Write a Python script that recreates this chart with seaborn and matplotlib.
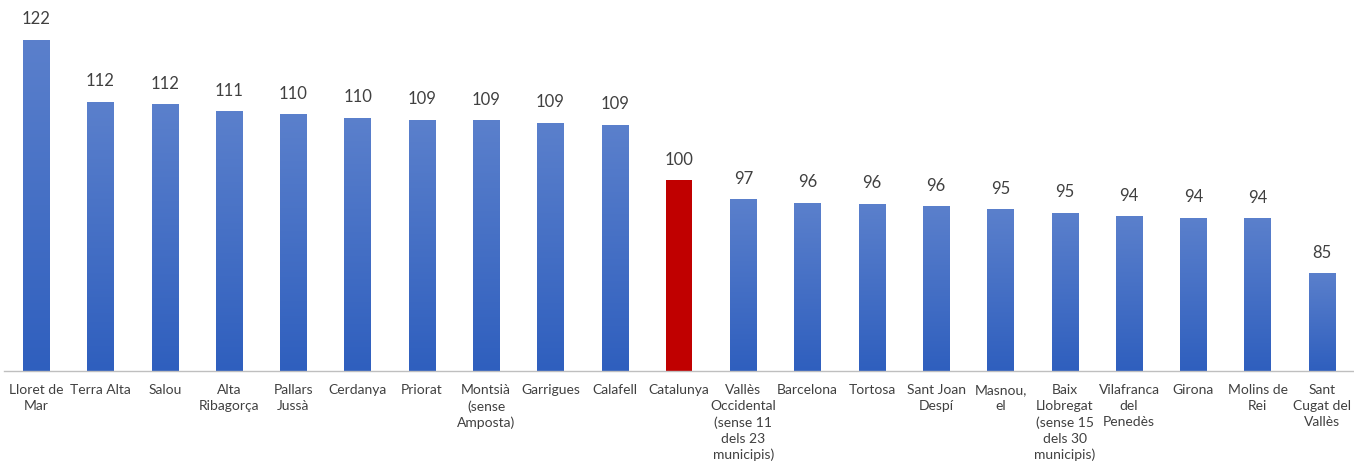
import numpy as np
import pandas as pd
import matplotlib
matplotlib.use('Agg')
import matplotlib.pyplot as plt
import seaborn as sns
from matplotlib.colors import LinearSegmentedColormap

# data
territoris = ["Lloret de\nMar", "Terra Alta", "Salou", "Alta\nRibagorça", "Pallars\nJussà",
              "Cerdanya", "Priorat", "Montsià\n(sense\nAmposta)", "Garrigues", "Calafell",
              "Catalunya", "Vallès\nOccidental\n(sense 11\ndels 23\nmunicipis)", "Barcelona",
              "Tortosa", "Sant Joan\nDespí", "Masnou,\nel",
              "Baix\nLlobregat\n(sense 15\ndels 30\nmunicipis)", "Vilafranca\ndel\nPenedès",
              "Girona", "Molins de\nRei", "Sant\nCugat del\nVallès"]
valors = [122.0, 112.3, 111.85, 110.75, 110.3, 109.8, 109.45, 109.4, 109.0, 108.7,
          100.0, 97.0, 96.4, 96.3, 95.9, 95.4, 94.9, 94.3, 94.1, 94.0, 85.4]
etiquetes = ["122", "112", "112", "111", "110", "110", "109", "109", "109", "109",
             "100", "97", "96", "96", "96", "95", "95", "94", "94", "94", "85"]

df = pd.DataFrame({"territori": territoris, "valor": valors})

sns.set_style("white")
plt.rcParams['font.family'] = ['Lato', 'DejaVu Sans']

fig = plt.figure(figsize=(13.54, 4.7), dpi=100)
ax = fig.add_axes([0.003, 0.21, 0.997, 0.78])

sns.barplot(data=df, x="territori", y="valor", width=0.41, color="#4472C4", ax=ax)

ax.set_ylim(70, 127.5)
ax.set_xlim(-0.5, len(territoris) - 0.5)

# gradient fill
blau = LinearSegmentedColormap.from_list("blau", ["#2F5FBE", "#5B80CC"])
grad = np.linspace(0, 1, 256).reshape(-1, 1)
for i, bar in enumerate(ax.patches):
    x0, y0 = bar.get_x(), bar.get_y()
    w, h = bar.get_width(), bar.get_height()
    if territoris[i] == "Catalunya":
        bar.set_facecolor("#C00000")
        bar.set_edgecolor("none")
        continue
    bar.set_facecolor("none")
    bar.set_edgecolor("none")
    im = ax.imshow(grad, cmap=blau, origin="lower", aspect="auto",
                   extent=[x0, x0 + w, 70, y0 + h], zorder=2)
    im.set_clip_path(bar)

# value labels
for i, v in enumerate(valors):
    ax.annotate(etiquetes[i], (i, v), xytext=(0, 9), textcoords="offset points",
                ha="center", va="bottom", fontsize=12, color="#404040")

ax.set_xlabel("")
ax.set_ylabel("")
ax.set_yticks([])
ax.tick_params(axis="x", length=0, pad=9, labelsize=10, labelcolor="#404040")
for lab in ax.get_xticklabels():
    lab.set_linespacing(1.4)
    lab.set_va("top")

for s in ["top", "right", "left"]:
    ax.spines[s].set_visible(False)
ax.spines["bottom"].set_color("#BFBFBF")
ax.spines["bottom"].set_linewidth(1)

fig.savefig("out.png", dpi=100)
